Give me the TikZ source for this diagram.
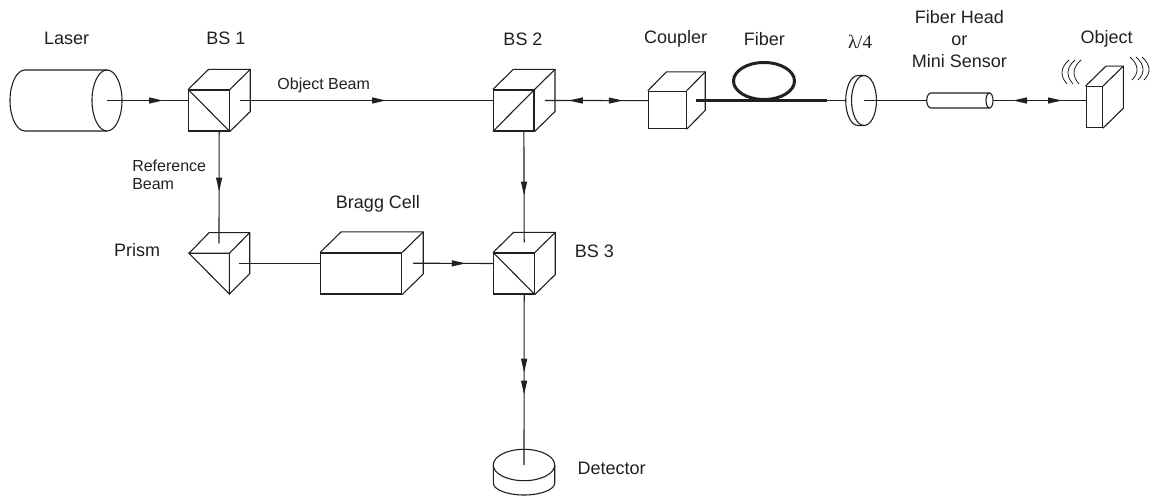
\documentclass[tikz,border=0pt]{standalone}
\usepackage{fontspec}
\setmainfont{Liberation Sans}
\newfontfamily\lambdafont{Liberation Serif}
\usepackage{xcolor}
\usetikzlibrary{
    arrows.meta,
    calc,
    decorations.markings
}
\definecolor{inkblack}{RGB}{35,31,32}
\tikzset{
  face/.style   = {draw, inner sep=0pt, minimum width=40.6pt, minimum height=41pt},
  lbl/.style    = {font=\fontsize{18}{22}\selectfont, text=inkblack, align=center, inner sep=0pt},
  slbl/.style   = {font=\fontsize{16}{18.4}\selectfont, text=inkblack, align=left, inner sep=0pt},
  beam/.style   = {line width=1.1pt},
  tip/.style    = {postaction={decorate, decoration={markings,
                   mark=at position #1 with {\arrow{Stealth[length=14pt,width=6pt,inset=0pt]}}}}},
  tipback/.style= {postaction={decorate, decoration={markings,
                   mark=at position #1 with {\arrowreversed{Stealth[length=14pt,width=6pt,inset=0pt]}}}}}
}
% back edges of a box whose front face is the node #1
\newcommand{\boxdepth}[3]{
  \draw (#1.north west) -- ++(#2,#3) -| ($(#1.south east)+(#2,#3)$) -- (#1.south east);
  \draw (#1.north east) -- ++(#2,#3);
  \coordinate (#1side) at ($(#1.east)+(0.5*#2,0.5*#3)$);
  \coordinate (#1top)  at ($(#1.north)+(0.5*#2,0.5*#3)$);
  \coordinate (#1in)   at ($(#1.west)+(0,0.5*#3)$);
  \coordinate (#1out)  at ($(#1.south)+(0.5*#2,0)$);
}

\begin{document}
\begin{tikzpicture}[x=1pt, y=1pt, line width=1.1pt, color=inkblack]
\useasboundingbox (0,0) rectangle (1150,495);

% laser
\coordinate (laser) at (107,394.5);
\draw (107,425) -- (25,425) arc[start angle=90, end angle=270, x radius=15, y radius=30.5] -- (107,364);
\draw (laser) ellipse[x radius=15, y radius=30.5];

% cubes
\node[face] (bsone)   at (209,384.5) {};
\node[face] (bstwo)   at (513.7,384.5) {};
\node[face] (bsthree) at (514,221.5) {};
\node[face, minimum width=37.7pt, minimum height=37.4pt] (coupler) at (667.2,385) {};
\node[face, minimum width=16.3pt, minimum height=41pt] (object) at (1094.2,387.8) {};
\node[face, minimum width=81pt] (bragg) at (361.2,221.5) {};
\boxdepth{bsone}{20.4}{20}
\boxdepth{bstwo}{20.4}{20}
\boxdepth{bsthree}{20.4}{20}
\boxdepth{coupler}{18.6}{18.8}
\boxdepth{object}{20.4}{20}
\boxdepth{bragg}{21}{20.6}
\draw (bsone.north west) -- (bsone.south east);
\draw (bstwo.south west) -- (bstwo.north east);
\draw (bsthree.north west) -- (bsthree.south east);
\coordinate (objectin) at (object.west |- laser);

% prism
\coordinate (prismleft) at (189,241.7);
\coordinate (prismfront) at (229.3,241.7);
\coordinate (prismbottom) at (229.3,201);
\coordinate (prismtop) at (219,251.7);
\coordinate (prismside) at (239,231.7);
\draw (prismleft) -- (prismfront) -- (prismbottom) -- cycle;
\draw (prismleft) -- ++(20,20.6) -- ++(40.7,0) -- ++(0,-41) -- (prismbottom);
\draw (prismfront) -- ++(20.4,20.6);

% wave plate
\coordinate (plate) at (864,394.5);
\coordinate (platein) at (845.7,394.5);
\draw (plate) ellipse[x radius=12.5, y radius=25];
\draw (864,419.5) -- (858,419.5) arc[start angle=90, end angle=270, x radius=12.3, y radius=25] -- (864,369.5);

% fiber head
\coordinate (headin) at (926.7,394.5);
\coordinate (headout) at (993,394.5);
\draw (989.5,402) -- (931,402) arc[start angle=90, end angle=270, x radius=4.3, y radius=7.5] -- (989.5,387);
\draw (989.5,394.5) ellipse[x radius=3.5, y radius=7.5];

% detector
\coordinate (detector) at (524,30);
\draw (detector) ellipse[x radius=30.7, y radius=15.7];
\draw (493.3,30) -- ++(0,-18) arc[start angle=180, end angle=360, x radius=30.7, y radius=12] -- ++(0,18);

% fiber
\coordinate (fibera) at (696,394.5);
\coordinate (fiberb) at (826.7,394.5);
\draw[line width=3pt] (fibera) -- (fiberb);
\draw[line width=3pt] (764,414) ellipse[x radius=30.5, y radius=18.5];

% waves
\foreach \i in {0,6,12}{
  \draw[line width=0.8pt] (1069+\i,435) .. controls (1060+\i,427) and (1060+\i,419) .. (1067+\i,411);
  \draw[line width=0.8pt] (1130+\i,438) .. controls (1139+\i,430) and (1139+\i,422) .. (1132+\i,415);
}

% beams
\draw[beam, tip=56pt] (laser) -- (bsoneside -| bsonein);
\draw[beam, tip=146pt] (bsoneside) -- (bstwoin);
\draw[beam, tip=60pt] (bsoneout) -- (prismtop);
\draw[beam] (prismside) -- (bragg.west |- prismside);
\draw[beam, tip=53pt] (braggside) -- (bsthreein);
\draw[beam, tip=64pt] (bstwoout) -- (bsthreetop);
\draw[beam, tip=78pt, tip=100pt] (bsthreeout) -- (detector);
\draw[beam, tipback=24pt, tip=78pt] (bstwoside) -- (couplerin);
\draw[beam] (fiberb) -- (platein);
\draw[beam] (plate) -- (headin);
\draw[beam, tipback=20pt, tip=69pt] (headout) -- (objectin);

% labels
\node[lbl] (laserlbl)   at (66.7,456.5) {Laser};
\node[lbl] (bsonelbl)   at (226,456.5) {BS 1};
\node[lbl] (bstwolbl)   at (523,456) {BS 2};
\node[lbl] (couplerlbl) at (675.7,456) {Coupler};
\node[lbl] (fiberlbl)   at (764.3,456) {Fiber};
\node[slbl, font=\fontsize{19}{22}\selectfont\lambdafont] (platelbl) at (860,453.5) {λ/4};
\node[lbl] (headlbl)    at (959.3,456) {Fiber Head\\or\\Mini Sensor};
\node[lbl] (objectlbl)  at (1106.7,456) {Object};
\node[lbl] (prismlbl)   at (137,245) {Prism};
\node[lbl] (bragglbl)   at (378,291) {Bragg Cell};
\node[lbl] (bsthreelbl) at (594.3,243.3) {BS 3};
\node[lbl] (detectorlbl) at (611.7,26.7) {Detector};
\node[slbl] (objbeamlbl) at (323.7,409.3) {Object Beam};
\node[slbl, anchor=west] (refbeamlbl) at (131.7,320) {Reference\\Beam};
\end{tikzpicture}
\end{document}
